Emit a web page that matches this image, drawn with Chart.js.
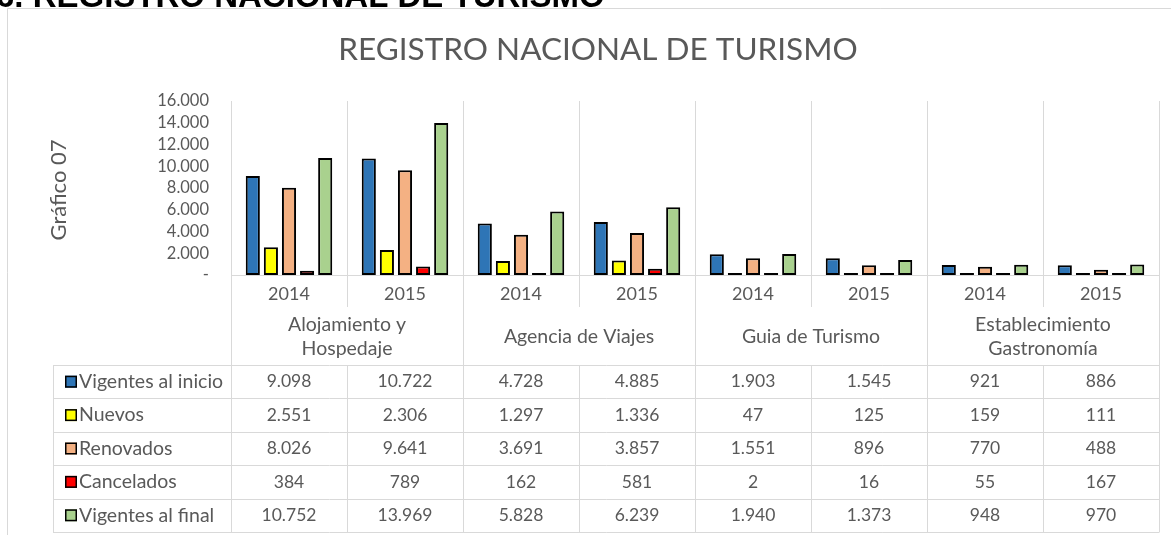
<!DOCTYPE html>
<html>
<head>
<meta charset="utf-8">
<script src="https://cdn.jsdelivr.net/npm/chart.js@4/dist/chart.umd.min.js"></script>
<style>
  html, body { margin: 0; padding: 0; background: #fff; }
  #wrap { position: relative; width: 1171px; height: 535px; overflow: hidden; }
  canvas { display: block; }
</style>
</head>
<body>
<div id="wrap"><canvas id="c" width="1171" height="535"></canvas></div>
<script>
// ---- data ----
const pageHeading = '6. REGISTRO NACIONAL DE TURISMO';
const chartTitle = 'REGISTRO NACIONAL DE TURISMO';
const yAxisTitle = 'Gráfico 07';
const groups = [['Alojamiento y', 'Hospedaje'], ['Agencia de Viajes'], ['Guia de Turismo'], ['Establecimiento', 'Gastronomía']];
const years = ['2014', '2015'];
const categories = ['2014', '2015', '2014', '2015', '2014', '2015', '2014', '2015'];
const seriesNames = ['Vigentes al inicio', 'Nuevos', 'Renovados', 'Cancelados', 'Vigentes al final'];
const vigentesInicio = [9098, 10722, 4728, 4885, 1903, 1545, 921, 886];
const nuevos = [2551, 2306, 1297, 1336, 47, 125, 159, 111];
const renovados = [8026, 9641, 3691, 3857, 1551, 896, 770, 488];
const cancelados = [384, 789, 162, 581, 2, 16, 55, 167];
const vigentesFinal = [10752, 13969, 5828, 6239, 1940, 1373, 948, 970];
const yTickValues = [0, 2000, 4000, 6000, 8000, 10000, 12000, 14000, 16000];

const seriesValues = [vigentesInicio, nuevos, renovados, cancelados, vigentesFinal];
const seriesColors = ['#2E75B6', '#FFFF00', '#F4B183', '#FF0000', '#A9D18E'];

const FONT = 'Lato, "Open Sans", sans-serif';
const TXT = '#595959';
const GRID = '#d9d9d9';

function fmt(v) {
  if (v === 0) return '-';
  return String(v).replace(/\B(?=(\d{3})+(?!\d))/g, '.');
}

const tablePlugin = {
  id: 'tablePlugin',
  beforeDraw(chart) {
    const ctx = chart.ctx;
    ctx.save();
    ctx.fillStyle = '#fff';
    ctx.fillRect(0, 0, chart.width, chart.height);
    // chart frame
    ctx.strokeStyle = GRID;
    ctx.lineWidth = 1;
    ctx.beginPath();
    ctx.moveTo(7.5, 540); ctx.lineTo(7.5, 8.5); ctx.lineTo(1180, 8.5);
    ctx.stroke();
    // page heading (cut at the top)
    ctx.fillStyle = '#000';
    ctx.font = 'bold 33px "Liberation Sans", Arial, sans-serif';
    ctx.textAlign = 'left';
    ctx.textBaseline = 'alphabetic';
    ctx.fillText(pageHeading, -4, 7);
    ctx.restore();
  },
  afterDraw(chart) {
    const ctx = chart.ctx;
    const x = chart.scales.x;
    const area = chart.chartArea;
    const n = categories.length;
    const cw = (area.right - area.left) / n;
    const edge = i => area.left + i * cw;
    const yBase = area.bottom;
    const yearSepEnd = 307;
    const tableTop = 365;
    const rowH = 33.4;
    const tableBottom = tableTop + rowH * seriesNames.length;
    const legendLeft = 53;

    ctx.save();
    // title
    ctx.fillStyle = TXT;
    ctx.textAlign = 'center';
    ctx.textBaseline = 'middle';
    ctx.font = '31.5px ' + FONT;
    ctx.fillText(chartTitle, 598, 50);
    // y axis title
    ctx.save();
    ctx.translate(59, 190);
    ctx.rotate(-Math.PI / 2);
    ctx.font = '22px ' + FONT;
    ctx.fillText(yAxisTitle, 0, 0);
    ctx.restore();

    // separators below the axis
    ctx.strokeStyle = GRID;
    ctx.lineWidth = 1;
    ctx.beginPath();
    for (let i = 0; i <= n; i++) {
      const px = Math.round(edge(i)) + 0.5;
      const isGroup = i % years.length === 0;
      ctx.moveTo(px, yBase);
      ctx.lineTo(px, isGroup ? tableBottom : yearSepEnd);
      if (!isGroup) { ctx.moveTo(px, tableTop); ctx.lineTo(px, tableBottom); }
    }
    // table horizontal lines
    for (let r = 0; r <= seriesNames.length; r++) {
      const py = Math.round(tableTop + r * rowH) + 0.5;
      ctx.moveTo(legendLeft, py);
      ctx.lineTo(Math.round(area.right) + 0.5, py);
    }
    ctx.moveTo(legendLeft + 0.5, tableTop);
    ctx.lineTo(legendLeft + 0.5, tableBottom);
    ctx.stroke();

    // group labels
    ctx.fillStyle = TXT;
    ctx.font = '19.5px ' + FONT;
    ctx.textAlign = 'center';
    groups.forEach((lines, g) => {
      const cx = (edge(g * years.length) + edge((g + 1) * years.length)) / 2;
      const lh = 24;
      const y0 = 337 - (lines.length - 1) * lh / 2;
      lines.forEach((t, k) => ctx.fillText(t, cx, y0 + k * lh));
    });

    // table rows
    seriesNames.forEach((name, r) => {
      const cy = tableTop + rowH * (r + 0.5);
      // legend key
      ctx.fillStyle = seriesColors[r];
      ctx.fillRect(65, cy - 6, 12, 12);
      ctx.strokeStyle = '#000';
      ctx.lineWidth = 1.5;
      ctx.strokeRect(65.75, cy - 5.25, 10.5, 10.5);
      ctx.fillStyle = TXT;
      ctx.textAlign = 'left';
      ctx.font = '19.5px ' + FONT;
      ctx.fillText(name, 79, cy);
      ctx.textAlign = 'center';
      ctx.font = '17.5px ' + FONT;
      seriesValues[r].forEach((v, i) => {
        ctx.fillText(fmt(v), x.getPixelForValue(i), cy);
      });
    });
    ctx.restore();
  }
};

new Chart(document.getElementById('c'), {
  type: 'bar',
  data: {
    labels: categories,
    datasets: seriesNames.map((name, i) => ({
      label: name,
      data: seriesValues[i],
      backgroundColor: seriesColors[i],
      borderColor: '#000',
      borderWidth: 2,
      borderSkipped: false,
      minBarLength: 2,
      categoryPercentage: 0.78,
      barPercentage: 0.78
    }))
  },
  options: {
    responsive: false,
    animation: false,
    events: [],
    layout: { padding: { top: 101, left: 0, right: 12, bottom: 0 } },
    plugins: { legend: { display: false }, title: { display: false }, tooltip: { enabled: false } },
    scales: {
      y: {
        min: 0, max: 16000,
        afterBuildTicks: s => { s.ticks = yTickValues.map(v => ({ value: v })); },
        ticks: { color: TXT, font: { family: FONT, size: 16.5 }, padding: 22, autoSkip: false, callback: v => fmt(v) },
        grid: { display: false, drawTicks: false },
        border: { display: false },
        afterFit: s => { s.width = 231; }
      },
      x: {
        grid: { offset: true, color: GRID, drawTicks: false, lineWidth: 1 },
        border: { display: true, color: GRID },
        ticks: { color: TXT, font: { family: FONT, size: 18 }, padding: 8, maxRotation: 0, autoSkip: false },
        afterFit: s => { s.height = 260; }
      }
    }
  },
  plugins: [tablePlugin]
});
</script>
</body>
</html>
